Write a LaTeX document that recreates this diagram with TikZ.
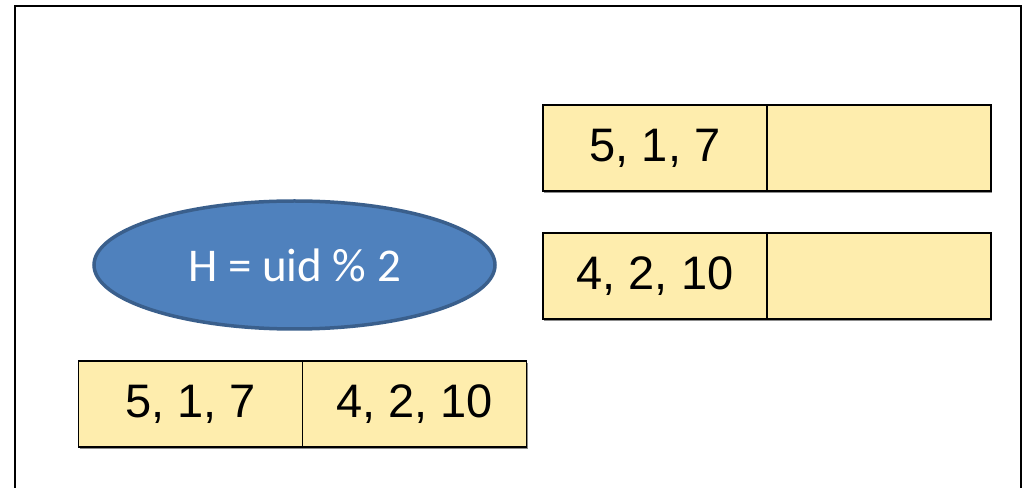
\documentclass[tikz,border=0pt]{standalone}
\usepackage{fontspec}
\setmainfont{Liberation Sans}
\newfontfamily\calib{Carlito}
\usetikzlibrary{shapes.geometric}
\definecolor{cellfill}{HTML}{FEEDAD}
\definecolor{ellfill}{HTML}{4F81BD}
\definecolor{elldraw}{HTML}{3A5F8C}
\begin{document}
\begin{tikzpicture}[x=1pt,y=1pt,
  cell/.style={draw=black,line width=1.6pt,fill=cellfill,minimum width=224pt,minimum height=86pt,inner sep=0pt,
    font=\fontsize{47}{50}\selectfont},
  shadowed/.style={preaction={fill=black!45,transform canvas={xshift=1pt,yshift=-1.8pt}}},
  frame/.style={line width=2pt,line cap=rect}]
\useasboundingbox (0,0) rectangle (1027,487);
% frame (open at bottom)
\draw[frame] (15,-2) -- (15,481) -- (1021,481) -- (1021,-2);
% ellipse
\node[ellipse,draw=elldraw,line width=3.5pt,fill=ellfill,minimum width=401pt,minimum height=128pt,inner sep=0pt,
  text=white,font=\calib\fontsize{47}{50}\selectfont] (hash) at (294.5,222) {H = uid \% 2};
% top-right row
\node[cell,shadowed] (a1) at (655,339) {5, 1, 7};
\node[cell,shadowed] (a2) at (879,339) {};
% middle-right row
\node[cell,shadowed] (b1) at (655,211) {4, 2, 10};
\node[cell,shadowed] (b2) at (879,211) {};
% bottom-left row
\node[cell,shadowed] (c1) at (190.5,83) {5, 1, 7};
\node[cell,shadowed] (c2) at (414.5,83) {4, 2, 10};
\end{tikzpicture}
\end{document}
